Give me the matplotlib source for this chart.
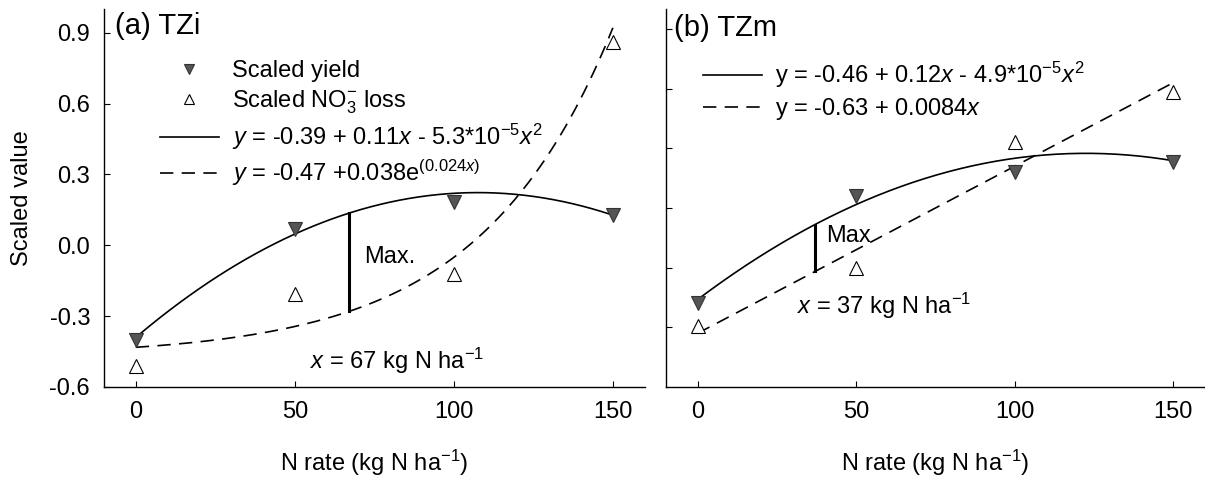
import numpy as np
import matplotlib
matplotlib.use("Agg")
import matplotlib.pyplot as plt
from matplotlib.lines import Line2D

plt.rcParams['font.family'] = ['Liberation Sans', 'DejaVu Sans']
plt.rcParams['mathtext.fontset'] = 'custom'
plt.rcParams['mathtext.rm'] = 'Liberation Sans'
plt.rcParams['mathtext.it'] = 'Liberation Sans:italic'
plt.rcParams['mathtext.default'] = 'regular'

# N rates
n_rate = [0, 50, 100, 150]

# (a) TZi
yield_a = [-0.40, 0.07, 0.185, 0.13]
no3_a = [-0.51, -0.205, -0.12, 0.86]
quad_a = [-0.39, 0.0114, -5.3e-5]      # solid fit: c0 + c1*x + c2*x^2
exp_a = [-0.47, 0.038, 0.024]          # dashed fit: a + b*exp(k*x)
max_a = 67

# (b) TZm
yield_b = [-0.48, 0.06, 0.18, 0.23]
no3_b = [-0.595, -0.30, 0.33, 0.585]
quad_b = [-0.46, 0.012, -4.9e-5]
lin_b = [-0.63, 0.0084]
max_b = 37

yticks = [-0.6, -0.3, 0.0, 0.3, 0.6, 0.9]
xticks = [0, 50, 100, 150]

FS = 17
DASH = (0, (8, 5))


def quad(c, x):
    return c[0] + c[1] * x + c[2] * x ** 2


def expo(c, x):
    return c[0] + c[1] * np.exp(c[2] * x)


def lin(c, x):
    return c[0] + c[1] * x


def style_axes(ax, ylim, show_labels):
    ax.set_xlim(-10, 160)
    ax.set_ylim(*ylim)
    ax.set_xticks(xticks)
    ax.set_yticks(yticks)
    if show_labels:
        ax.set_yticklabels(['%.1f' % v for v in yticks])
    else:
        ax.set_yticklabels([])
    ax.spines['top'].set_visible(False)
    ax.spines['right'].set_visible(False)
    for s in ['left', 'bottom']:
        ax.spines[s].set_linewidth(1.0)
    ax.tick_params(direction='in', length=4, width=0.8, labelsize=FS, pad=10)
    ax.set_xlabel('N rate (kg N ha$^{-1}$)', fontsize=FS, labelpad=18)


fig = plt.figure(figsize=(12.05, 4.78), dpi=100)
ax1 = fig.add_axes([0.0863, 0.1904, 0.4487, 0.7906])
ax2 = fig.add_axes([0.5527, 0.1904, 0.4473, 0.7906])

xs = np.linspace(0, 150, 200)

# ---- panel a
ax1.plot(xs, quad(quad_a, xs), color='black', lw=1.2)
ax1.plot(xs, expo(exp_a, xs), color='black', lw=1.2, ls=DASH)
ax1.plot([max_a, max_a], [expo(exp_a, max_a), quad(quad_a, max_a)], color='black', lw=2.2)
ax1.plot(n_rate, yield_a, ls='none', marker='v', ms=9.5, mfc='#555555', mec='#333333', mew=0.8)
ax1.plot(n_rate, no3_a, ls='none', marker='^', ms=9.5, mfc='white', mec='black', mew=0.8)
style_axes(ax1, (-0.6, 1.0), True)
ax1.set_ylabel('Scaled value', fontsize=FS, labelpad=12)
ax1.text(-6.5, 0.93, '(a) TZi', fontsize=21, va='center', ha='left')
ax1.text(71.8, -0.048, 'Max.', fontsize=FS, va='center', ha='left')
ax1.text(54.8, -0.49, '$\\it{x}$ = 67 kg N ha$^{-1}$', fontsize=FS, va='center', ha='left')

handles_a = [
    Line2D([], [], ls='none', marker='v', ms=7, mfc='#555555', mec='#333333', mew=0.8),
    Line2D([], [], ls='none', marker='^', ms=7, mfc='white', mec='black', mew=0.8),
    Line2D([], [], color='black', lw=1.2),
    Line2D([], [], color='black', lw=1.2, ls=DASH),
]
labels_a = [
    'Scaled yield',
    'Scaled NO$_3^{-}$ loss',
    '$\\it{y}$ = -0.39 + 0.11$\\it{x}$ - 5.3*10$^{-5}$$\\it{x}^2$',
    '$\\it{y}$ = -0.47 +0.038e$^{(0.024\\it{x})}$',
]
ax1.legend(handles_a, labels_a, loc='upper left', bbox_to_anchor=(0.1035, 0.865),
           frameon=False, fontsize=FS, handlelength=2.5, handletextpad=0.55,
           labelspacing=0.26, borderpad=0, borderaxespad=0)

# ---- panel b
ax2.plot(xs, quad(quad_b, xs), color='black', lw=1.2)
ax2.plot(xs, lin(lin_b, xs), color='black', lw=1.2, ls=DASH)
ax2.plot([max_b, max_b], [lin(lin_b, max_b), quad(quad_b, max_b)], color='black', lw=2.2)
ax2.plot(n_rate, yield_b, ls='none', marker='v', ms=9.5, mfc='#555555', mec='#333333', mew=0.8)
ax2.plot(n_rate, no3_b, ls='none', marker='^', ms=9.5, mfc='white', mec='black', mew=0.8)
style_axes(ax2, (-0.9, 1.0), False)
ax2.text(-7.4, 0.905, '(b) TZm', fontsize=21, va='center', ha='left')
ax2.text(40.4, -0.139, 'Max', fontsize=FS, va='center', ha='left')
ax2.text(31.3, -0.494, '$\\it{x}$ = 37 kg N ha$^{-1}$', fontsize=FS, va='center', ha='left')

handles_b = [
    Line2D([], [], color='black', lw=1.2),
    Line2D([], [], color='black', lw=1.2, ls=DASH),
]
labels_b = [
    'y = -0.46 + 0.12$\\it{x}$ - 4.9*10$^{-5}$$\\it{x}^2$',
    'y = -0.63 + 0.0084$\\it{x}$',
]
ax2.legend(handles_b, labels_b, loc='upper left', bbox_to_anchor=(0.0686, 0.865),
           frameon=False, fontsize=FS, handlelength=2.5, handletextpad=0.55,
           labelspacing=0.25, borderpad=0, borderaxespad=0)

fig.savefig('out.png', dpi=100)
